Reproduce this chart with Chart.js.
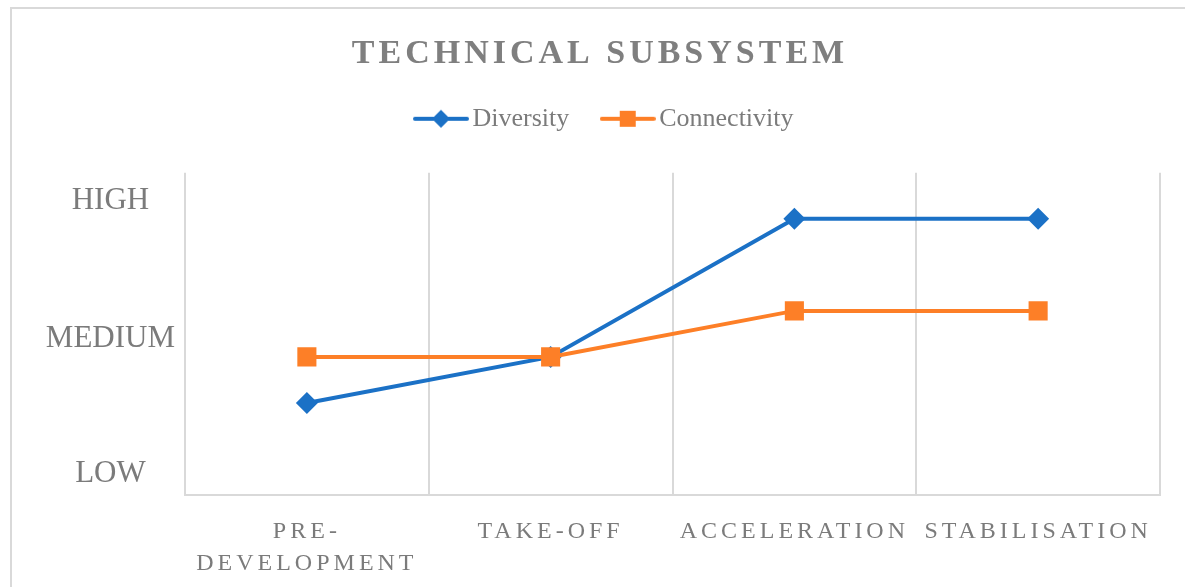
<!DOCTYPE html>
<html>
<head>
<meta charset="utf-8">
<script src="https://cdn.jsdelivr.net/npm/chart.js@4.4.0/dist/chart.umd.min.js"></script>
<style>
  html, body { margin: 0; padding: 0; background: #fff; overflow: hidden; }
  #frame {
    position: absolute; left: 10px; top: 7px;
    width: 1200px; height: 600px;
    border: 2px solid #d9d9d9;
  }
  #wrap { position: absolute; left: 0; top: 0; width: 1185px; height: 587px; }
</style>
</head>
<body>
<div id="frame"></div>
<div id="wrap"><canvas id="chart"></canvas></div>
<script>
const categories = [['PRE-', 'DEVELOPMENT'], 'TAKE-OFF', 'ACCELERATION', 'STABILISATION'];
const diversityValues = [2, 3, 6, 6];
const connectivityValues = [3, 3, 4, 4];
const yTickValues = [0.45, 3.4, 6.38];
const yTickLabels = ['LOW', 'MEDIUM', 'HIGH'];

const BLUE = '#1b71c6';
const ORANGE = '#fd7f27';
const TEXT = '#7b7b7b';
const GRID = '#d9d9d9';
const SERIF = '"Liberation Serif", "DejaVu Serif", serif';

// legend swatch: short line with the marker in the middle
function legendSwatch(color, shape) {
  const c = document.createElement('canvas');
  c.width = 56;
  c.height = 22;
  const g = c.getContext('2d');
  g.strokeStyle = color;
  g.lineWidth = 4;
  g.lineCap = 'round';
  g.beginPath();
  g.moveTo(2, 11);
  g.lineTo(54, 11);
  g.stroke();
  g.fillStyle = color;
  if (shape === 'diamond') {
    g.beginPath();
    g.moveTo(28, 2); g.lineTo(37, 11); g.lineTo(28, 20); g.lineTo(19, 11);
    g.closePath();
    g.fill();
  } else {
    g.fillRect(20, 3, 16, 16);
  }
  return c;
}

// wrap a draw method so its text gets letter spacing
function spaced(obj, method, px) {
  if (!obj || obj['_spaced_' + method]) return;
  const orig = obj[method];
  obj[method] = function (...args) {
    const ctx = this.ctx;
    ctx.save();
    ctx.letterSpacing = px + 'px';
    orig.apply(this, args);
    ctx.restore();
  };
  obj['_spaced_' + method] = true;
}

const letterSpacingPlugin = {
  id: 'letterSpacing',
  afterLayout(chart) {
    // legend sits a little right of the title in the original
    if (chart.legend) {
      chart.legend.left += 8;
      chart.legend.right += 8;
    }
  },
  beforeDraw(chart) {
    spaced(chart.titleBlock, 'draw', 4);
    spaced(chart.scales.x, 'drawLabels', 4);
  }
};

const swatches = [legendSwatch(BLUE, 'diamond'), legendSwatch(ORANGE, 'square')];

new Chart(document.getElementById('chart'), {
  type: 'line',
  data: {
    labels: categories,
    datasets: [
      {
        label: 'Diversity',
        data: diversityValues,
        borderColor: BLUE,
        backgroundColor: BLUE,
        borderWidth: 4,
        pointStyle: 'rectRot',
        pointRadius: 11,
        pointHoverRadius: 11,
        pointBorderWidth: 0,
        order: 2
      },
      {
        label: 'Connectivity',
        data: connectivityValues,
        borderColor: ORANGE,
        backgroundColor: ORANGE,
        borderWidth: 4,
        pointStyle: 'rect',
        pointRadius: 13.5,
        pointHoverRadius: 13.5,
        pointBorderWidth: 0,
        order: 1
      }
    ]
  },
  options: {
    responsive: true,
    maintainAspectRatio: false,
    animation: false,
    layout: { padding: { left: 40, right: 25, top: 0, bottom: 10 } },
    plugins: {
      title: {
        display: true,
        text: 'TECHNICAL SUBSYSTEM',
        color: '#7f7f7f',
        font: { family: SERIF, size: 34, weight: 'bold', lineHeight: 1.2 },
        padding: { top: 34, bottom: -9 }
      },
      subtitle: {
        display: true,
        text: '',
        weight: 500,
        font: { size: 1, lineHeight: 1 },
        padding: { top: 30, bottom: 0 }
      },
      legend: {
        display: true,
        position: 'top',
        labels: {
          usePointStyle: true,
          pointStyleWidth: 37,
          padding: 40,
          color: TEXT,
          font: { family: SERIF, size: 26 },
          generateLabels(chart) {
            return chart.data.datasets.map((ds, i) => ({
              text: ds.label,
              fillStyle: ds.borderColor,
              strokeStyle: ds.borderColor,
              lineWidth: 0,
              pointStyle: swatches[i],
              fontColor: TEXT,
              hidden: false,
              datasetIndex: i
            }));
          }
        }
      },
      tooltip: { enabled: false }
    },
    scales: {
      x: {
        offset: true,
        grid: { display: true, offset: true, color: GRID, lineWidth: 2, drawTicks: false },
        border: { display: true, color: GRID, width: 2 },
        afterFit(scale) {
          scale.height = 82;
        },
        ticks: {
          color: TEXT,
          padding: 21,
          autoSkip: false,
          maxRotation: 0,
          minRotation: 0,
          font: { family: SERIF, size: 24, lineHeight: 1.333 }
        }
      },
      y: {
        min: 0,
        max: 7,
        grid: { display: false, drawTicks: false },
        border: { display: false },
        afterBuildTicks(scale) {
          scale.ticks = yTickValues.map(v => ({ value: v }));
        },
        afterFit(scale) {
          scale.width = 145;
          scale.paddingTop = 0;
          scale.paddingBottom = 0;
        },
        ticks: {
          color: TEXT,
          padding: 10,
          crossAlign: 'center',
          font: { family: SERIF, size: 31 },
          callback: (value, index) => yTickLabels[index]
        }
      }
    }
  },
  plugins: [letterSpacingPlugin]
});
</script>
</body>
</html>
